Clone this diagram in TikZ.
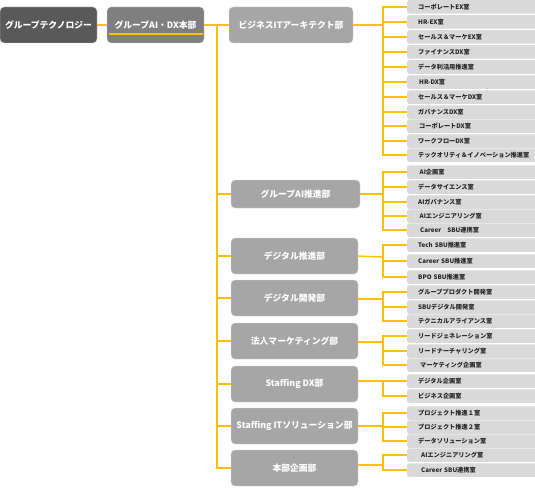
\documentclass[tikz,border=0pt]{standalone}
\usepackage{fontspec}
\setmainfont{Noto Sans CJK JP}
\definecolor{cdark}{HTML}{595959}
\definecolor{cmid}{HTML}{7F7F7F}
\definecolor{cbig}{HTML}{A6A6A6}
\definecolor{csmall}{HTML}{D9D9D9}
\definecolor{corange}{HTML}{FFC000}
\begin{document}
\begin{tikzpicture}[x=1pt,y=-1pt,
  big/.style={rounded corners=4pt, draw=white!85!black, line width=0.4pt, fill=cbig, text=white,
    font=\bfseries\fontsize{8.8}{10}\selectfont, inner sep=0pt, minimum width=127pt, minimum height=36pt},
  small/.style={rounded corners=2pt, fill=csmall, text=black!85, font=\bfseries\fontsize{6.2}{7}\selectfont,
    inner xsep=11pt, inner ysep=0pt, text width=112pt, align=left, minimum height=13.5pt},
  conn/.style={draw=corange, line width=1.4pt}]
\useasboundingbox (0,0) rectangle (535,487);
% top chain
\node[big, fill=cdark, minimum width=97pt] (n1) at (48.5,25) {グループテクノロジー};
\node[big, fill=cmid, minimum width=97pt] (n2) at (155.5,25) {グループAI・DX本部};
\node[big, minimum width=124pt] (n3) at (291,25) {ビジネスITアーキテクト部};
\draw[conn] (n1.east) -- (n2.east -| n2.west);
\draw[conn] (109,34) -- (203,34);
\draw[conn] (n2.east) -- (n3.west);
% departments
\node[big, minimum width=129pt, minimum height=28pt] (d2) at (295.5,194) {グループAI推進部};
\node[big] (d3) at (294.5,256) {デジタル推進部};
\node[big] (d4) at (294.5,298) {デジタル開発部};
\node[big] (d5) at (294.5,341) {法人マーケティング部};
\node[big] (d6) at (294.5,384) {Staffing DX部};
\node[big] (d7) at (294.5,426) {Staffing ITソリューション部};
\node[big] (d8) at (294.5,468) {本部企画部};
\coordinate (sp) at (217,25);
\foreach \d in {d2,d3,d4,d5,d6,d7,d8} {\draw[conn] (sp) |- (\d.west);}
% group bars
\coordinate (g1) at (383,25);
\coordinate (g2) at (383,194);
\coordinate (g3) at (383,257);
\coordinate (g4) at (383,299);
\coordinate (g5) at (383,342);
\coordinate (g6) at (383,381);
\coordinate (g7) at (383,426);
\coordinate (g8) at (383,465);
\draw[conn] (n3.east) -- (g1);
\draw[conn] (d2.east) -- (g2);
\draw[conn] (d3.east) -- (g3);
\draw[conn] (d4.east |- g4) -- (g4);
\draw[conn] (d5.east |- g5) -- (g5);
\draw[conn] (d6.east |- g6) -- (g6);
\draw[conn] (d7.east) -- (g7);
\draw[conn] (d8.east |- g8) -- (g8);
% small boxes
\foreach \g/\list in {
 g1/{7/コーポレートEX室, 22/HR-EX室, 37/セールス＆マーケEX室, 52/ファイナンスDX室, 67/データ利活用推進室, 82/\hspace{1pt}HR-DX室, 97/セールス＆マーケDX室, 112/ガバナンスDX室, 126/\hspace{1pt}コーポレートDX室, 141/ワークフローDX室, 155/テックオリティ＆イノベーション推進室},
 g2/{172/\hspace{1.5pt}AI企画室, 187/データサイエンス室, 202/AIガバナンス室, 216/\hspace{1.5pt}AIエンジニアリング室, 230/\hspace{2pt}Career　SBU連携室},
 g3/{245/Tech SBU推進室, 261/Career SBU推進室, 277/BPO SBU推進室},
 g4/{292/グループプロダクト開発室, 307/SBUデジタル開発室, 321/テクニカルアライアンス室},
 g5/{336/リードジェネレーション室, 351/リードナーチャリング室, 365/\hspace{2pt}マーケティング企画室},
 g6/{381/デジタル企画室, 396/ビジネス企画室},
 g7/{413/プロジェクト推進１室, 427/プロジェクト推進２室, 441/データソリューション室},
 g8/{455/\hspace{3pt}AIエンジニアリング室, 470/\hspace{3pt}Career SBU連携室}} {
  \foreach \y/\t [count=\i] in \list {
    \node[small, anchor=west] (\g b\i) at (407,\y) {\t};
    \draw[conn] (\g) |- (\g b\i.west);
  }
}
\end{tikzpicture}
\end{document}
